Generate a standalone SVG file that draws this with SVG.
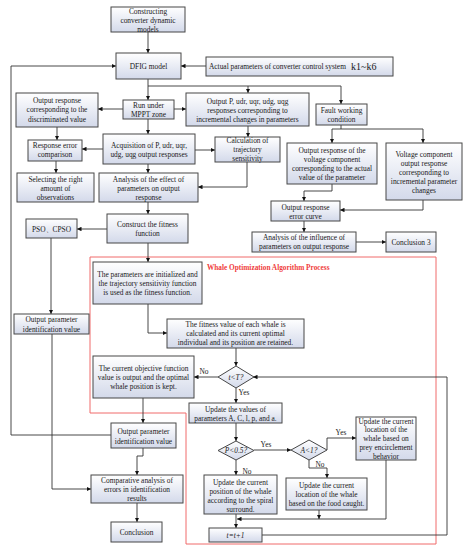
<svg xmlns="http://www.w3.org/2000/svg" width="468" height="550" viewBox="0 0 468 550">
<defs>
<linearGradient id="g" x1="0" y1="0" x2="0" y2="1"><stop offset="0" stop-color="#ffffff"/><stop offset="1" stop-color="#d3d9ea"/></linearGradient>
<marker id="a" viewBox="0 0 8 8" refX="8" refY="4" markerWidth="5" markerHeight="5" orient="auto"><path d="M0,0 L8,4 L0,8 z" fill="#111"/></marker>
</defs>
<style>
.b{fill:url(#g);stroke:#474747;stroke-width:1}
.t{font-family:"Liberation Serif","Times New Roman",serif;font-size:7.4px;fill:#1a1a1a;text-anchor:middle}
.i{font-style:italic}
.c path{fill:none;stroke:#333;stroke-width:0.9}
.c path.m{marker-end:url(#a)}
.r{fill:none;stroke:#f06a6a;stroke-width:1}
</style>
<rect width="468" height="550" fill="#fff"/>
<path class="r" d="M90,257 H436 V544 H186 V413 H90 Z"/>
<text x="207" y="270" style="font-family:'Liberation Serif',serif;font-size:7.3px;font-weight:bold;fill:#f03c3c">Whale Optimization Algorithm Process</text>

<g class="c">
<path class="m" d="M148,32 V53"/>
<path class="m" d="M206,66 H181"/>
<path class="m" d="M148,79 V100"/>
<path class="m" d="M148,86 H341 V104"/>
<path class="m" d="M248,86 V93"/>
<path class="m" d="M123,109 H98"/>
<path class="m" d="M174,109 H186"/>
<path class="m" d="M57,127 V140"/>
<path class="m" d="M148,119 V134"/>
<path class="m" d="M103,149 H82"/>
<path class="m" d="M195,150 H215"/>
<path class="m" d="M248,126 V137"/>
<path class="m" d="M56,161 V173"/>
<path class="m" d="M148,164 V173"/>
<path class="m" d="M247,162 V187 H198"/>
<path class="m" d="M148,202 V214"/>
<path class="m" d="M107,229 H77"/>
<path class="m" d="M341,125 V129 H332 V143"/>
<path class="m" d="M341,129 H423 V143"/>
<path class="m" d="M332,184 V191 H304 V201"/>
<path class="m" d="M423,200 V210 H340"/>
<path class="m" d="M304,221 V232"/>
<path class="m" d="M356,242 H386"/>
<path class="m" d="M148,243 V262"/>
<path class="m" d="M51,238 V314"/>
<path class="m" d="M148,304 V333 H167"/>
<path class="m" d="M236,348 V366"/>
<path class="m" d="M218,377 H194"/>
<path class="m" d="M143,398 V423"/>
<path class="m" d="M236,388 V403"/>
<path class="m" d="M236,423 V441"/>
<path class="m" d="M254,450 H291"/>
<path class="m" d="M327,450 V438 H356"/>
<path class="m" d="M309,460 V468 H327 V478"/>
<path class="m" d="M236,460 V475"/>
<path class="m" d="M386,460 V519 H237"/>
<path class="m" d="M319,510 V519"/>
<path class="m" d="M236,514 V528"/>
<path class="m" d="M262,535 H447 V377 H253"/>
<path class="m" d="M111,435 H11 V66 H116"/>
<path class="m" d="M52,334 V489 H91"/>
<path class="m" d="M143,448 V456 H137 V475"/>
<path class="m" d="M137,503 V522"/>
</g>

<g id="n1"><rect class="b" x="111" y="7" width="74" height="25"/><text class="t"><tspan x="148" y="13.5">Constructing</tspan><tspan x="148" y="22.5">converter dynamic</tspan><tspan x="148" y="31.5">models</tspan></text></g>
<g id="n2"><rect class="b" x="116" y="53" width="65" height="26"/><text class="t" x="148.5" y="68.5">DFIG model</text></g>
<g id="n3"><rect class="b" x="206" y="57" width="187" height="19"/><text class="t" style="text-anchor:start" x="209" y="69">Actual parameters of converter control system</text><text class="t" style="text-anchor:start;font-size:10px" x="351" y="70">k1~k6</text></g>
<g id="n4"><rect class="b" x="123" y="100" width="51" height="19"/><text class="t"><tspan x="148.5" y="107.5">Run under</tspan><tspan x="148.5" y="116.5">MPPT zone</tspan></text></g>
<g id="n5"><rect class="b" x="16" y="93" width="82" height="34"/><text class="t"><tspan x="57" y="102.5">Output response</tspan><tspan x="57" y="112">corresponding to the</tspan><tspan x="57" y="121.5">discriminated value</tspan></text></g>
<g id="n6"><rect class="b" x="186" y="93" width="123" height="33"/><text class="t"><tspan x="247.5" y="103.5">Output P, udr, uqr, udg, uqg</tspan><tspan x="247.5" y="112.5">responses corresponding to</tspan><tspan x="247.5" y="121.5">incremental changes in parameters</tspan></text></g>
<g id="n7"><rect class="b" x="316" y="104" width="51" height="21"/><text class="t"><tspan x="341.5" y="112.5">Fault working</tspan><tspan x="341.5" y="121.5">condition</tspan></text></g>
<g id="n8"><rect class="b" x="103" y="134" width="92" height="30"/><text class="t"><tspan x="149" y="147.5">Acquisition of P, udr, uqr,</tspan><tspan x="149" y="156.5">udg, uqg output responses</tspan></text></g>
<g id="n9"><rect class="b" x="215" y="137" width="65" height="25"/><text class="t"><tspan x="247.5" y="142.5">Calculation of</tspan><tspan x="247.5" y="152">trajectory</tspan><tspan x="247.5" y="161">sensitivity</tspan></text></g>
<g id="n10"><rect class="b" x="28" y="140" width="54" height="21"/><text class="t"><tspan x="55" y="147.5">Response error</tspan><tspan x="55" y="156.5">comparison</tspan></text></g>
<g id="n11"><rect class="b" x="17" y="173" width="77" height="29"/><text class="t"><tspan x="55.5" y="181.5">Selecting the right</tspan><tspan x="55.5" y="190.5">amount of</tspan><tspan x="55.5" y="200">observations</tspan></text></g>
<g id="n12"><rect class="b" x="99" y="173" width="99" height="29"/><text class="t"><tspan x="148.5" y="181.5">Analysis of the effect of</tspan><tspan x="148.5" y="190.5">parameters on output</tspan><tspan x="148.5" y="199.5">response</tspan></text></g>
<g id="n13"><rect class="b" x="107" y="214" width="81" height="29"/><text class="t"><tspan x="147.5" y="226.5">Construct the fitness</tspan><tspan x="147.5" y="235.5">function</tspan></text></g>
<g id="n14"><rect class="b" x="26" y="219" width="51" height="19"/><text class="t" x="51.5" y="231.5">PSO、CPSO</text></g>
<g id="n15"><rect class="b" x="287" y="143" width="90" height="41"/><text class="t"><tspan x="332" y="152.5">Output response of the</tspan><tspan x="332" y="161.5">voltage component</tspan><tspan x="332" y="170.5">corresponding to the actual</tspan><tspan x="332" y="180">value of the parameter</tspan></text></g>
<g id="n16"><rect class="b" x="386" y="143" width="76" height="57"/><text class="t"><tspan x="424" y="156.5">Voltage component</tspan><tspan x="424" y="165.5">output response</tspan><tspan x="424" y="174.5">corresponding to</tspan><tspan x="424" y="183.5">incremental parameter</tspan><tspan x="424" y="193">changes</tspan></text></g>
<g id="n17"><rect class="b" x="271" y="201" width="69" height="20"/><text class="t"><tspan x="305.5" y="209.5">Output response</tspan><tspan x="305.5" y="218.5">error curve</tspan></text></g>
<g id="n18"><rect class="b" x="252" y="232" width="104" height="20"/><text class="t"><tspan x="304" y="239.5">Analysis of the influence of</tspan><tspan x="304" y="249">parameters on output response</tspan></text></g>
<g id="n19"><rect class="b" x="386" y="232" width="50" height="20"/><text class="t" x="411" y="244.5">Conclusion 3</text></g>
<g id="n20"><rect class="b" x="93" y="262" width="109" height="42"/><text class="t"><tspan x="147.5" y="276.5">The parameters are initialized and</tspan><tspan x="147.5" y="285.5">the trajectory sensitivity function</tspan><tspan x="147.5" y="294.5">is used as the fitness function.</tspan></text></g>
<g id="n21"><rect class="b" x="167" y="319" width="137" height="29"/><text class="t"><tspan x="235.5" y="326.5">The fitness value of each whale is</tspan><tspan x="235.5" y="335.5">calculated and its current optimal</tspan><tspan x="235.5" y="344.5">individual and its position are retained.</tspan></text></g>
<g id="n22"><polygon class="b" points="236,366 254,377 236,388 218,377"/><text class="t i" x="236" y="379.5">t&lt;T?</text></g>
<g id="n23"><rect class="b" x="93" y="356" width="101" height="42"/><text class="t"><tspan x="143.5" y="370.5">The current objective function</tspan><tspan x="143.5" y="379.5">value is output and the optimal</tspan><tspan x="143.5" y="389">whale position is kept.</tspan></text></g>
<g id="n24"><rect class="b" x="14" y="314" width="75" height="20"/><text class="t"><tspan x="51.5" y="322">Output parameter</tspan><tspan x="51.5" y="331.5">identification value</tspan></text></g>
<g id="n25"><rect class="b" x="111" y="423" width="65" height="25"/><text class="t"><tspan x="143.5" y="434">Output parameter</tspan><tspan x="143.5" y="443.5">identification value</tspan></text></g>
<g id="n26"><rect class="b" x="91" y="475" width="92" height="28"/><text class="t"><tspan x="137" y="482.5">Comparative analysis of</tspan><tspan x="137" y="491.5">errors in identification</tspan><tspan x="137" y="500.5">results</tspan></text></g>
<g id="n27"><rect class="b" x="111" y="522" width="51" height="20"/><text class="t" x="136.5" y="534.5">Conclusion</text></g>
<g id="n28"><rect class="b" x="189" y="403" width="93" height="20"/><text class="t"><tspan x="235.5" y="411.5">Update the values of</tspan><tspan x="235.5" y="420.5">parameters A, C, l, p, and a.</tspan></text></g>
<g id="n29"><polygon class="b" points="236,441 254,450.5 236,460 218,450.5"/><text class="t i" x="236" y="453">P&lt;0.5?</text></g>
<g id="n30"><polygon class="b" points="309,440 327,450 309,460 291,450"/><text class="t i" x="309" y="452.5">A&lt;1?</text></g>
<g id="n31"><rect class="b" x="356" y="417" width="60" height="43"/><text class="t"><tspan x="386" y="423.5">Update the current</tspan><tspan x="386" y="432">location of the</tspan><tspan x="386" y="440.5">whale based on</tspan><tspan x="386" y="450">prey encirclement</tspan><tspan x="386" y="459">behavior</tspan></text></g>
<g id="n32"><rect class="b" x="286" y="478" width="81" height="32"/><text class="t"><tspan x="326.5" y="487.5">Update the current</tspan><tspan x="326.5" y="496.5">location of the whale</tspan><tspan x="326.5" y="506">based on the food caught.</tspan></text></g>
<g id="n33"><rect class="b" x="204" y="475" width="73" height="39"/><text class="t"><tspan x="240.5" y="484.5">Update the current</tspan><tspan x="240.5" y="493.5">position of the whale</tspan><tspan x="240.5" y="502.5">according to the spiral</tspan><tspan x="240.5" y="511.5">surround.</tspan></text></g>
<g id="n34"><rect class="b" x="209" y="528" width="53" height="14"/><text class="t i" x="235.5" y="537.5">t=t+1</text></g>

<g id="labels">
<text class="t" x="204" y="374">No</text>
<text class="t" x="244" y="394.5">Yes</text>
<text class="t" x="266" y="447">Yes</text>
<text class="t" x="341" y="434.5">Yes</text>
<text class="t" x="320" y="467">No</text>
<text class="t" x="247" y="474">No</text>
</g>
</svg>
